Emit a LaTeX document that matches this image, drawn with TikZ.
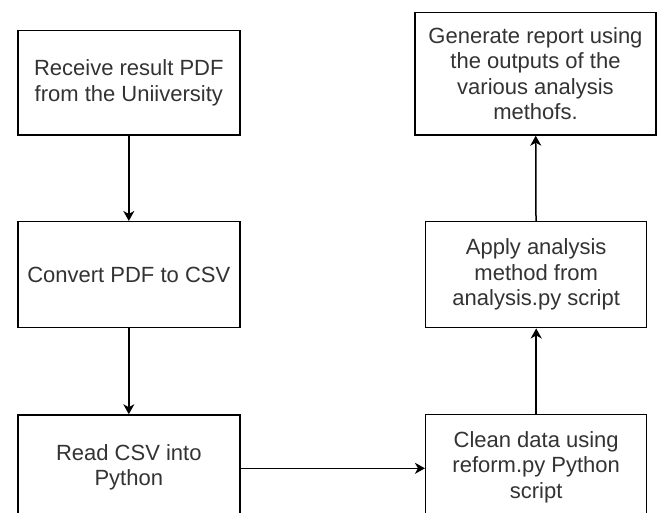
\documentclass[tikz,border=0pt]{standalone}
\usepackage{fontspec}
\setmainfont{Liberation Sans}
\usetikzlibrary{arrows.meta}
\definecolor{txt}{HTML}{333333}
\tikzset{
  box/.style={draw=black, line width=1.5pt, fill=white, inner sep=0pt, align=center,
    text=txt, font=\fontsize{22}{25.5}\selectfont},
  conn/.style={draw=black, line width=1.5pt, -{Stealth[length=10pt,width=11pt,inset=3pt]}}
}
\begin{document}
\begin{tikzpicture}[x=1pt,y=-1pt]
\useasboundingbox (0,0) rectangle (659,513);
\clip (0,0) rectangle (659,513);
\node[box, minimum width=222pt, minimum height=104.5pt] (a) at (128.8,82.8) {Receive result PDF\\from the Uniiversity};
\node[box, minimum width=222pt, minimum height=106pt] (b) at (128.8,274.7) {Convert PDF to CSV};
\node[box, minimum width=222pt, minimum height=105pt] (c) at (128.8,467.5) {Read CSV into\\Python};
\node[box, minimum width=221pt, minimum height=105pt] (d) at (536.2,467) {Clean data using\\reform.py Python\\script};
\node[box, minimum width=221pt, minimum height=106pt] (e) at (536.2,274.7) {Apply analysis\\method from\\analysis.py script};
\node[box, minimum width=241pt, minimum height=122.3pt] (f) at (535.5,73.8) {Generate report using\\the outputs of the\\various analysis\\methofs.};
\draw[conn] (a) -- (b);
\draw[conn] (b) -- (c);
\draw[conn] (c.east |- 0,468.3) -- (d.west |- 0,468.3);
\draw[conn] (d) -- (e);
\draw[conn] (e) -- (f);
\end{tikzpicture}
\end{document}
